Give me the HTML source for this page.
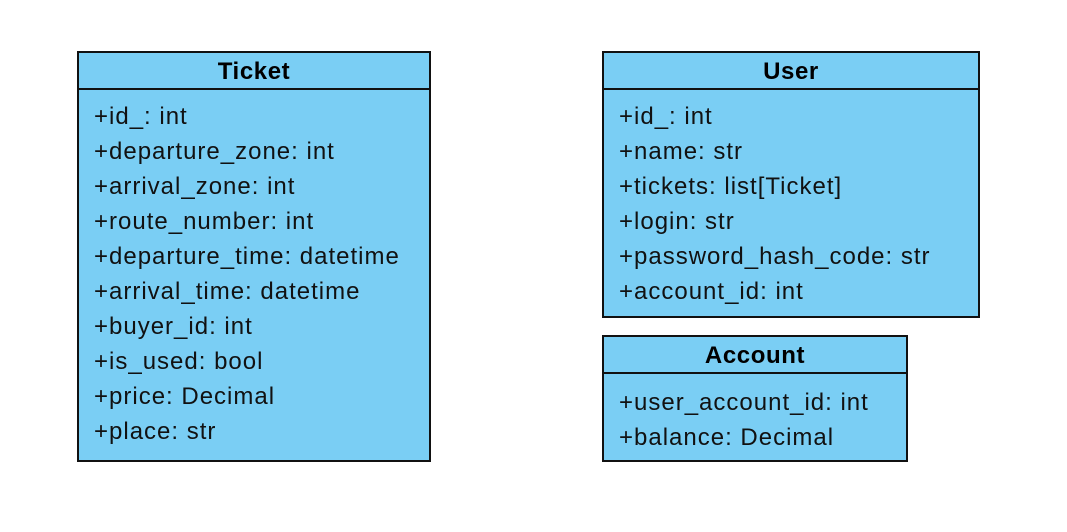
<!DOCTYPE html>
<html><head><style>
body{margin:0;width:1067px;height:532px;background:#fff;position:relative;font-family:"Liberation Sans",Arial,sans-serif;overflow:hidden}
.b{position:absolute;background:#7ACEF4;border:2px solid #111;box-sizing:border-box}
.h{position:absolute;left:0;right:0;top:0;text-align:center;font-weight:bold;font-size:24px;letter-spacing:0.6px;line-height:37px;height:35px;border-bottom:2px solid #111}
.r{position:absolute;left:15px;font-size:24px;letter-spacing:1px;line-height:35px;white-space:nowrap;color:#111}
</style></head><body>
<div class="b" style="left:77px;top:51px;width:354px;height:411px">
<div class="h">Ticket</div>
<div class="r" style="top:46px">+id_: int<br>+departure_zone: int<br>+arrival_zone: int<br>+route_number: int<br>+departure_time: datetime<br>+arrival_time: datetime<br>+buyer_id: int<br>+is_used: bool<br>+price: Decimal<br>+place: str</div>
</div>
<div class="b" style="left:602px;top:51px;width:378px;height:267px">
<div class="h">User</div>
<div class="r" style="top:46px">+id_: int<br>+name: str<br>+tickets: list[Ticket]<br>+login: str<br>+password_hash_code: str<br>+account_id: int</div>
</div>
<div class="b" style="left:602px;top:335px;width:306px;height:127px">
<div class="h">Account</div>
<div class="r" style="top:48px">+user_account_id: int<br>+balance: Decimal</div>
</div>
</body></html>
